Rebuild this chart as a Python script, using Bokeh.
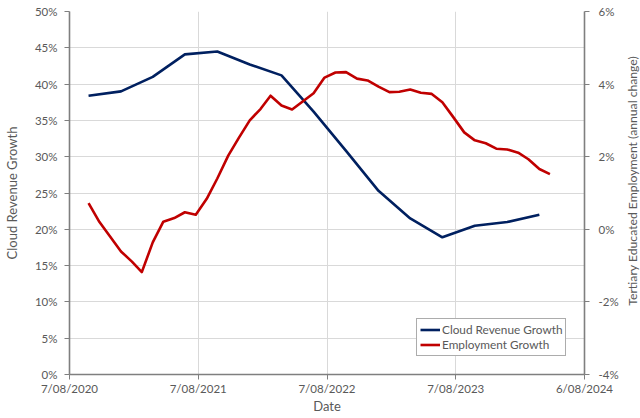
import math
import pandas as pd
from bokeh.plotting import figure
from bokeh.layouts import row
from bokeh.models import (Range1d, LinearAxis, FixedTicker, CustomJSTickFormatter,
                          Legend, LegendItem, ColumnDataSource, Label)
from bokeh.embed import file_html
from bokeh.resources import INLINE

# ---------------- data ----------------
cloud_dates = ["2020-09-30", "2020-12-31", "2021-03-31", "2021-06-30", "2021-09-30",
               "2021-12-31", "2022-03-31", "2022-06-30", "2022-09-30", "2022-12-31",
               "2023-03-31", "2023-06-30", "2023-09-30", "2023-12-31", "2024-03-31"]
cloud_growth = [38.4, 39.0, 41.0, 44.1, 44.5,
                42.7, 41.2, 36.2, 30.8, 25.3,
                21.5, 18.9, 20.5, 21.0, 22.0]

emp_start = "2020-09-30"
emp_growth = [0.72, 0.20, -0.20, -0.61,
              -0.89, -1.18, -0.36, 0.21, 0.31, 0.47, 0.40, 0.84, 1.40, 2.03, 2.52, 3.00,
              3.32, 3.68, 3.41, 3.30, 3.53, 3.75, 4.18, 4.32, 4.33, 4.15, 4.10, 3.93,
              3.78, 3.79, 3.85, 3.76, 3.73, 3.50, 3.09, 2.67, 2.45, 2.37, 2.22, 2.20,
              2.11, 1.93, 1.66, 1.52]
emp_dates = pd.date_range(emp_start, periods=len(emp_growth), freq=pd.offsets.MonthEnd())

x_tick_dates = ["2020-08-07", "2021-08-07", "2022-08-07", "2023-08-07", "2024-08-06"]
x_tick_labels = ["7/08/2020", "7/08/2021", "7/08/2022", "7/08/2023", "6/08/2024"]
left_ticks = [0, 5, 10, 15, 20, 25, 30, 35, 40, 45, 50]
right_ticks = [-4, -2, 0, 2, 4, 6]

x_title = "Date"
left_title = "Cloud Revenue Growth"
right_title = "Tertiary Educated Employment (annual change)"

# ---------------- styling ----------------
TXT = "#595959"
AXC = "#7f7f7f"
GRID = "#d9d9d9"
FONT = "Lato"
H = 418

def ms(s):
    return pd.Timestamp(s).value / 1e6

tick_ms = [ms(s) for s in x_tick_dates]

p = figure(width=624, height=H, x_axis_type="datetime",
           x_range=Range1d(tick_ms[0], tick_ms[-1]), y_range=Range1d(0, 50),
           output_backend="svg", toolbar_location=None,
           min_border_left=68, min_border_right=40, min_border_top=11, min_border_bottom=44)
p.extra_y_ranges = {"emp": Range1d(-4, 6)}
p.outline_line_color = None
p.background_fill_color = "white"

src_c = ColumnDataSource(dict(x=pd.to_datetime(cloud_dates), y=cloud_growth))
src_e = ColumnDataSource(dict(x=emp_dates, y=emp_growth))
r1 = p.line("x", "y", source=src_c, line_color="#002060", line_width=2.6, line_join="round")
r2 = p.line("x", "y", source=src_e, line_color="#C00000", line_width=2.6, line_join="round",
            y_range_name="emp")

# x axis
xa = p.xaxis[0]
xa.ticker = FixedTicker(ticks=tick_ms)
xa.formatter = CustomJSTickFormatter(args=dict(t=tick_ms, l=x_tick_labels), code="""
let best = 0, bd = Infinity;
for (let i = 0; i < t.length; i++) { const d = Math.abs(t[i] - tick); if (d < bd) { bd = d; best = i; } }
return bd < 86400000 ? l[best] : '';
""")
xa.axis_label = x_title
p.xgrid.ticker = FixedTicker(ticks=tick_ms)

# left axis
ya = p.yaxis[0]
ya.ticker = FixedTicker(ticks=left_ticks)
ya.formatter = CustomJSTickFormatter(code="return tick.toFixed(0) + '%';")
ya.axis_label = left_title
p.ygrid.ticker = FixedTicker(ticks=left_ticks)

# right axis
ra = LinearAxis(y_range_name="emp", ticker=FixedTicker(ticks=right_ticks),
                formatter=CustomJSTickFormatter(code="return tick.toFixed(0) + '%';"))
p.add_layout(ra, "right")

for ax in [xa, ya, ra]:
    ax.axis_line_color = AXC
    ax.axis_line_width = 1.6
    ax.major_tick_line_color = AXC
    ax.major_tick_line_width = 1
    ax.major_tick_out = 5
    ax.major_tick_in = 0
    ax.minor_tick_out = 0
    ax.minor_tick_in = 0
    ax.major_label_text_font = FONT
    ax.major_label_text_font_size = "11.5px"
    ax.major_label_text_color = TXT
    ax.axis_label_text_font = FONT
    ax.axis_label_text_font_size = "13px"
    ax.axis_label_text_font_style = "normal"
    ax.axis_label_text_color = TXT

xa.major_label_standoff = 2
xa.axis_label_standoff = 0
ya.major_label_standoff = 7
ya.axis_label_standoff = 12
ra.major_label_standoff = 9

for g in [p.xgrid[0], p.ygrid[0]]:
    g.grid_line_color = GRID
    g.grid_line_width = 1

legend = Legend(items=[LegendItem(label="Cloud Revenue Growth", renderers=[r1]),
                       LegendItem(label="Employment Growth", renderers=[r2])],
                location=(347, 18))
legend.border_line_color = TXT
legend.border_line_width = 1.5
legend.background_fill_color = "white"
legend.background_fill_alpha = 1
legend.label_text_font = FONT
legend.label_text_font_size = "11.8px"
legend.label_text_color = TXT
legend.padding = 3
legend.spacing = 0
legend.margin = 0
legend.glyph_width = 20
legend.glyph_height = 15
legend.label_height = 15
legend.label_standoff = 2
p.add_layout(legend)

# narrow strip holding the right-hand axis title, reading bottom-to-top
p2 = figure(width=16, height=H, x_range=Range1d(0, 1), y_range=Range1d(0, H),
            output_backend="svg", toolbar_location=None,
            x_axis_location=None, y_axis_location=None, min_border=0)
p2.grid.visible = False
p2.outline_line_color = None
p2.background_fill_color = "white"
rt = Label(x=0.5, y=H - 195, text=right_title, angle=math.pi / 2,
           text_align="center", text_baseline="middle",
           text_font=FONT, text_font_size="12.2px", text_color=TXT)
p2.add_layout(rt)

layout = row(p, p2)
open("out.html", "w").write(file_html(layout, INLINE))
